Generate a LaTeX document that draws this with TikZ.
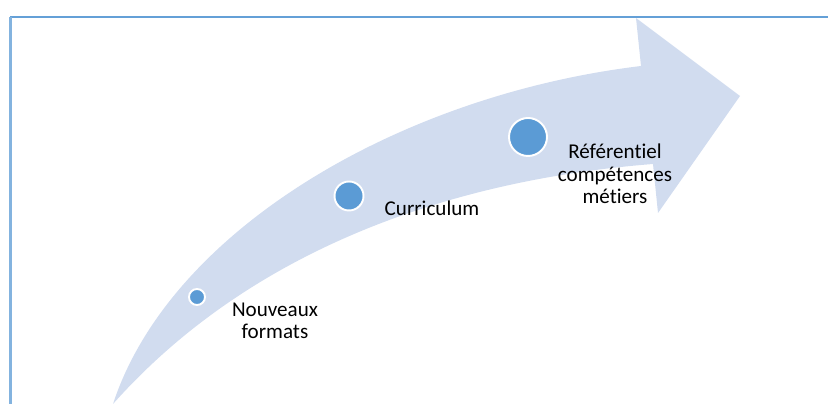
\documentclass[tikz,border=0pt]{standalone}
\usepackage{fontspec}
\setmainfont{Carlito}[Ligatures=NoCommon]
\definecolor{bandblue}{RGB}{209,220,239}
\definecolor{dotblue}{RGB}{91,155,213}
\definecolor{frameblue}{RGB}{100,160,215}

\begin{document}
\begin{tikzpicture}[x=0.02cm, y=-0.02cm,
  dot/.style={draw=white, line width=1.1pt, circle, fill=dotblue, inner sep=0pt},
  txt/.style={align=center, inner sep=0pt, font=\fontsize{12}{12.8}\selectfont}]
\useasboundingbox (0,0) rectangle (828,404);
% frame
\draw[frameblue, line width=0.6pt] (10,17) -- (828,17);
\draw[frameblue!80, line width=1.2pt] (10.5,17) -- (10.5,404);
% curved arrow
\fill[bandblue] (113,404) .. controls (170,230) and (400,95) .. (641,66)
  -- (636,18) -- (740,96) -- (658,213) -- (653,164)
  .. controls (450,180) and (250,250) .. (113,404) -- cycle;
% steps
\node[dot, minimum size=16*0.02cm] (N1) at (197,297) {};
\node[dot, minimum size=29*0.02cm] (N2) at (349,196) {};
\node[dot, minimum size=38*0.02cm] (N3) at (528,137) {};
\node[txt] (T1) at (275,321) {Nouveaux\\formats};
\node[txt] (T2) at (432,208) {Curriculum};
\node[txt] (T3) at (615,174) {Référentiel\\compétences\\métiers};
\end{tikzpicture}
\end{document}
